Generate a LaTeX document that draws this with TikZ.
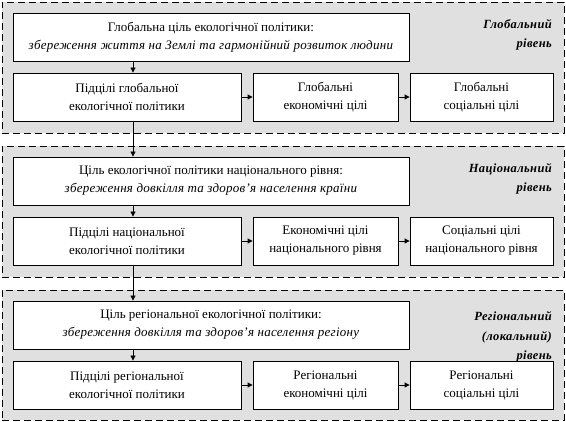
\documentclass[tikz,border=0pt]{standalone}
\usepackage{fontspec}
\setmainfont{Liberation Serif}[ItalicFeatures={LetterSpace=2}, BoldItalicFeatures={LetterSpace=3}]
\usetikzlibrary{arrows.meta}
\definecolor{panelgray}{RGB}{224,224,224}
\tikzset{
  panel/.style={draw=black, fill=panelgray, dash pattern=on 7pt off 4pt, line width=0.8pt, inner sep=0pt},
  goalbox/.style={draw=black, fill=white, line width=0.8pt, inner sep=0pt, align=center, font=\fontsize{13}{18}\selectfont},
  levellabel/.style={align=right, anchor=east, inner sep=0pt, font=\fontsize{12.5}{19.5}\selectfont\bfseries\itshape},
  arr/.style={-{Triangle[length=5pt,width=5pt]}, line width=0.8pt}
}
\begin{document}
\begin{tikzpicture}[x=1pt,y=-1pt]
\useasboundingbox (0,0) rectangle (566,422);
% panels
\node[panel, minimum width=562pt, minimum height=131pt] (p1) at (283,67.5) {};
\node[panel, minimum width=562pt, minimum height=131pt] (p2) at (283,211.5) {};
\node[panel, minimum width=562pt, minimum height=130pt] (p3) at (283,355) {};
\coordinate (cx) at (133,0);
% level 1
\node[goalbox, minimum width=396pt, minimum height=48pt] (t1) at (211,37)
  {Глобальна ціль екологічної політики:\\ \textit{збереження життя на Землі та гармонійний розвиток людини}};
\node[goalbox, minimum width=228pt, minimum height=48pt] (a1) at (127,97) {Підцілі глобальної\\ екологічної політики};
\node[goalbox, minimum width=145pt, minimum height=48pt] (b1) at (325.5,97) {Глобальні\\ економічні цілі};
\node[goalbox, minimum width=143pt, minimum height=48pt] (c1) at (481.5,97) {Глобальні\\ соціальні цілі};
\node[levellabel] (l1) at (552,35) {Глобальний\\ рівень};
% level 2
\node[goalbox, minimum width=396pt, minimum height=48pt] (t2) at (211,181)
  {Ціль екологічної політики національного рівня:\\ \textit{збереження довкілля та здоров’я населення країни}};
\node[goalbox, minimum width=228pt, minimum height=48pt] (a2) at (127,241) {Підцілі національної\\ екологічної політики};
\node[goalbox, minimum width=145pt, minimum height=48pt] (b2) at (325.5,241) {Економічні цілі\\ національного рівня};
\node[goalbox, minimum width=143pt, minimum height=48pt] (c2) at (481.5,241) {Соціальні цілі\\ національного рівня};
\node[levellabel] (l2) at (552,179) {Національний\\ рівень};
% level 3
\node[goalbox, minimum width=396pt, minimum height=48pt] (t3) at (211,325)
  {Ціль регіональної екологічної політики:\\ \textit{збереження довкілля та здоров’я населення регіону}};
\node[goalbox, minimum width=228pt, minimum height=48pt] (a3) at (127,385) {Підцілі регіональної\\ екологічної політики};
\node[goalbox, minimum width=145pt, minimum height=48pt] (b3) at (325.5,385) {Регіональні\\ економічні цілі};
\node[goalbox, minimum width=143pt, minimum height=48pt] (c3) at (481.5,385) {Регіональні\\ соціальні цілі};
\node[levellabel] (l3) at (552,337) {Регіональний\\ (локальний)\\ рівень};
% connectors
\draw[arr] (t1.south -| cx) -- (a1.north -| cx);
\draw[arr] (a1.south -| cx) -- (t2.north -| cx);
\draw[arr] (t2.south -| cx) -- (a2.north -| cx);
\draw[arr] (a2.south -| cx) -- (t3.north -| cx);
\draw[arr] (t3.south -| cx) -- (a3.north -| cx);
\draw[arr] (a1) -- (b1);
\draw[arr] (b1) -- (c1);
\draw[arr] (a2) -- (b2);
\draw[arr] (b2) -- (c2);
\draw[arr] (a3) -- (b3);
\draw[arr] (b3) -- (c3);
\end{tikzpicture}
\end{document}
